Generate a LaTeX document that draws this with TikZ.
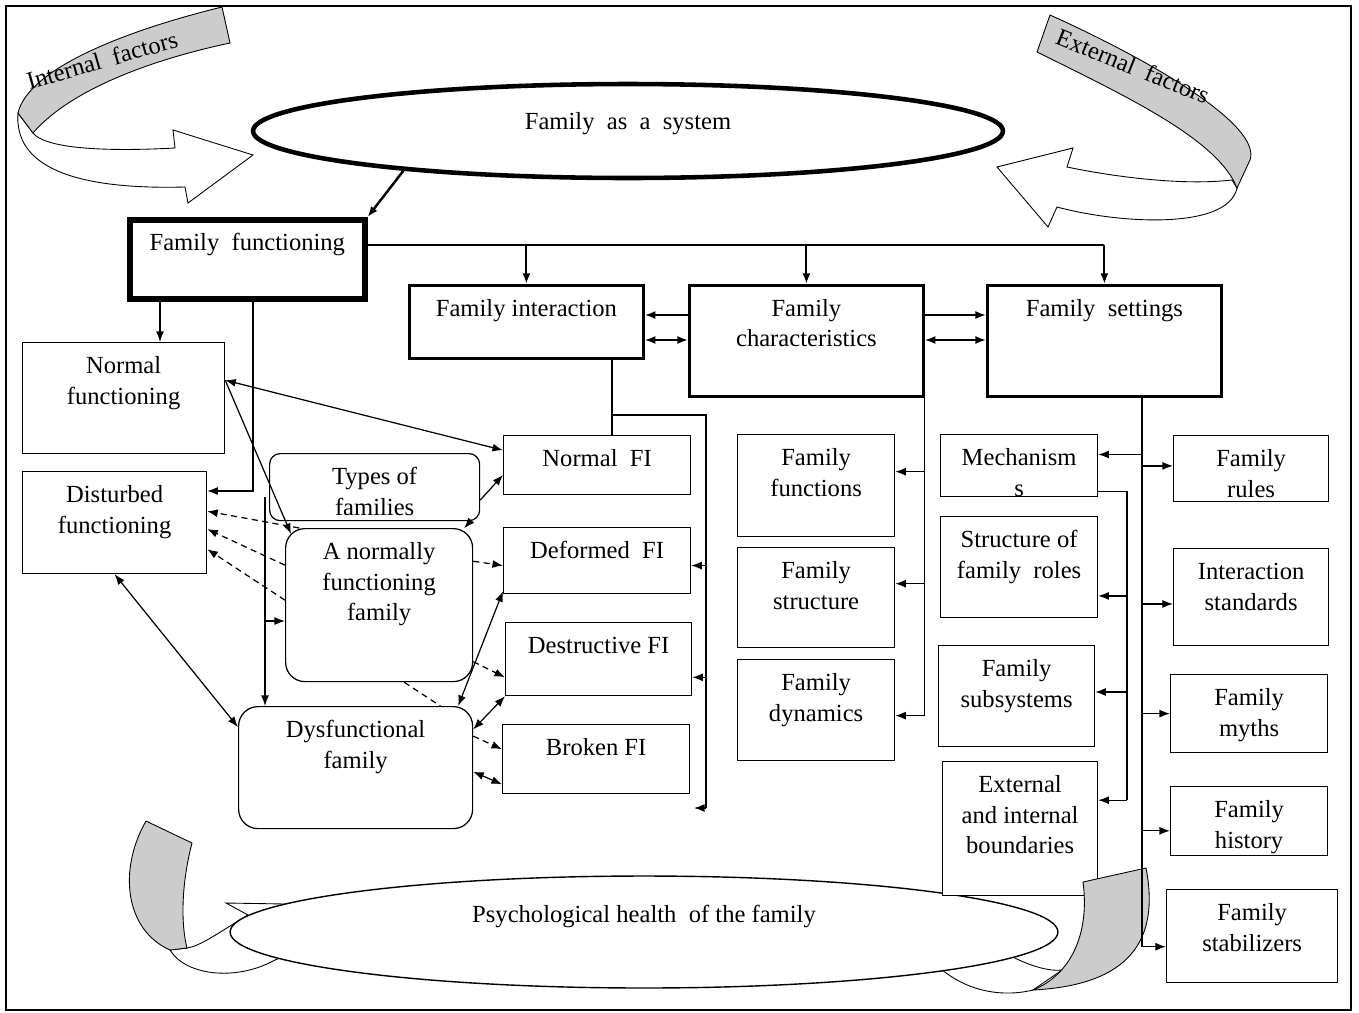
\documentclass[tikz,border=0pt]{standalone}
\usepackage{fontspec}
\setmainfont{Liberation Serif}
\usetikzlibrary{arrows.meta,shapes.geometric}

\newlength{\pxu}
\setlength{\pxu}{0.02cm}
\newcommand{\boxtext}[3]{\parbox[c][#2\pxu][t]{#1\pxu}{\centering\rule{0pt}{17.5pt}#3}}

\tikzset{
  famnode/.style={draw, fill=white, inner sep=0pt, anchor=north west, line width=0.7pt},
  heavynode/.style={famnode, line width=1.6pt},
  softnode/.style={famnode, rounded corners=#1},
  softnode/.default=11pt,
  ribbon/.style={draw, line width=0.5pt, fill=white},
  shade/.style={draw, line width=0.5pt, fill=gray!40},
  arr/.style={line width=0.7pt, -{Latex[length=6pt,width=4.5pt]}},
  dblarr/.style={line width=0.7pt, {Latex[length=6pt,width=4.5pt]}-{Latex[length=6pt,width=4.5pt]}},
  dasharr/.style={arr, dash pattern=on 3.5pt off 2.5pt},
  bus/.style={line width=1.4pt},
}

\begin{document}
\begin{tikzpicture}[x=0.02cm, y=-0.02cm, line width=0.7pt, font=\fontsize{14}{17.5}\selectfont]
\useasboundingbox (0,0) rectangle (1359,1012);
\draw[line width=0.6pt] (6,6) rectangle (1351,1010);

% top ribbons
\path[ribbon] (18,113) .. controls (14,165) and (70,190) .. (185,187) -- (188,203) -- (253,155) -- (173,130) -- (175,148) .. controls (100,152) and (45,148) .. (33,133) -- cycle;
\path[shade] (222,7) .. controls (120,32) and (28,70) .. (18,113) -- (33,133) .. controls (70,90) and (150,60) .. (230,43) -- cycle;
\node[rotate=16] (intf) at (102,60) {Internal\ \ factors};

\path[ribbon] (1232,180) .. controls (1180,186) and (1110,176) .. (1067,167) -- (1073,148) -- (997,167) -- (1048,227) -- (1057,207) .. controls (1120,224) and (1228,230) .. (1237,188) -- cycle;
\path[shade] (1050,15) .. controls (1150,60) and (1262,125) .. (1250,160) -- (1237,188) .. controls (1218,140) and (1130,98) .. (1037,52) -- cycle;
\node[rotate=-22] (extf) at (1133,66) {External\ \ factors};

\node[draw, ellipse, fill=white, line width=2.6pt, inner sep=0pt, minimum width=15cm, minimum height=1.88cm, text depth=11pt] (sys) at (628,131) {Family\ \ as\ \ a\ \ system};

% bottom ribbons
\path[ribbon] (170,950) .. controls (185,975) and (235,982) .. (275,960) -- (300,950) -- (345,905) -- (226,903) -- (248,915) .. controls (215,935) and (200,946) .. (187,948) -- cycle;
\path[ribbon] (1033,990) .. controls (1000,998) and (965,990) .. (940,968) -- (1000,950) .. controls (1020,962) and (1045,972) .. (1062,970) -- cycle;
\node[draw, ellipse, fill=white, line width=0.8pt, inner sep=0pt, minimum width=16.56cm, minimum height=2.24cm, text depth=21pt] (health) at (644,932) {Psychological health\ \ of the family};
\path[shade] (146,821) -- (192,843) .. controls (181,885) and (181,925) .. (187,948) -- (170,950) .. controls (125,930) and (118,870) .. (146,821) -- cycle;

% boxes
\node[famnode, line width=3.2pt] (ff) at (127,217) {\boxtext{235}{79}{Family\ \ functioning}};
\node[heavynode] (fint) at (408,284) {\boxtext{234}{73}{Family interaction}};
\node[heavynode] (fchar) at (688,284) {\boxtext{234}{111}{Family\\characteristics}};
\node[heavynode] (fset) at (986,284) {\boxtext{234}{111}{Family\ \ settings}};

\node[famnode] (normfun) at (22,342) {\boxtext{202}{111}{Normal\\functioning}};
\node[famnode] (distfun) at (22,471) {\boxtext{184}{102}{Disturbed\\functioning}};
\node[softnode=6pt] (types) at (269,453) {\boxtext{210}{67}{Types of\\families}};
\node[softnode] (normfam) at (285,528) {\boxtext{187}{153}{A normally\\functioning\\family}};
\node[softnode] (dysfam) at (238,706) {\boxtext{234}{122}{Dysfunctional\\family}};

\node[famnode] (nfi) at (503,435) {\boxtext{187}{59}{Normal\ \ FI}};
\node[famnode] (defi) at (503,527) {\boxtext{187}{66}{Deformed\ \ FI}};
\node[famnode] (desfi) at (505,622) {\boxtext{186}{73}{Destructive FI}};
\node[famnode] (brfi) at (502,724) {\boxtext{187}{69}{Broken FI}};

\node[famnode] (ffun) at (737,434) {\boxtext{157}{102}{Family\\functions}};
\node[famnode] (fstr) at (737,547) {\boxtext{157}{100}{Family\\structure}};
\node[famnode] (fdyn) at (737,659) {\boxtext{157}{101}{Family\\dynamics}};

\node[famnode] (mech) at (940,434) {\boxtext{157}{62}{Mechanism\\s}};
\node[famnode] (roles) at (940,516) {\boxtext{157}{101}{Structure of\\family\ \ roles}};
\node[famnode] (subsys) at (938,645) {\boxtext{156}{101}{Family\\subsystems}};
\node[famnode] (bound) at (942,761) {\boxtext{155}{134}{External\\and internal\\boundaries}};

\node[famnode] (rules) at (1173,435) {\boxtext{155}{66}{Family\\rules}};
\node[famnode] (istd) at (1173,548) {\boxtext{155}{97}{Interaction\\standards}};
\node[famnode] (myths) at (1170,674) {\boxtext{157}{78}{Family\\myths}};
\node[famnode] (hist) at (1170,786) {\boxtext{157}{69}{Family\\history}};
\node[famnode] (stab) at (1166,889) {\boxtext{171}{93}{Family\\stabilizers}};

\path[shade] (1083,882) -- (1146,868) .. controls (1160,940) and (1130,985) .. (1033,990) .. controls (1070,975) and (1090,935) .. (1083,882) -- cycle;

% from the system down to the three blocks
\coordinate (fbus) at (0,245);
\draw[arr, line width=1.4pt] (sys.190) -- (ff.north east);
\draw[bus] (ff.east |- fbus) -- (fset.north |- fbus);
\foreach \n in {fint,fchar,fset}
  \draw[arr, line width=1.2pt] (\n.north |- fbus) -- (\n.north);

\coordinate (ya) at (0,315);
\coordinate (yb) at (0,340);
\draw[arr, line width=1pt] (fchar.west |- ya) -- (fint.east |- ya);
\draw[dblarr, line width=1pt] (fint.east |- yb) -- (fchar.west |- yb);
\draw[arr, line width=1pt] (fchar.east |- ya) -- (fset.west |- ya);
\draw[dblarr, line width=1pt] (fchar.east |- yb) -- (fset.west |- yb);

% functioning and types of families
\coordinate (ffdrop) at (160,0);
\coordinate (kneeA) at (253,491);
\coordinate (kneeB) at (265,497);
\coordinate (kneeC) at (265,621);
\draw[arr] (ff.south -| ffdrop) -- (normfun.north -| ffdrop);
\draw[arr] (ff.south -| kneeA) -- (kneeA) -- (distfun.east |- kneeA);
\draw[arr] (kneeB) -- (dysfam.north -| kneeB);
\draw[arr] (kneeC) -- (normfam.west |- kneeC);

\draw[dblarr] (normfun.10) -- (nfi.171);
\draw[arr] (normfun.10) -- ([shift={(6,6)}]normfam.north west);
\draw[arr] (types.-7) -- (nfi.186);
\draw[arr] ([shift={(-9,-1)}]types.south east) -- ++(-7,8);

\draw[dasharr] (normfam.136) -- (distfun.7);
\draw[dasharr] (normfam.157) -- (distfun.-4);
\draw[dasharr] (normfam.177) -- (distfun.-16);
\draw[dasharr] (normfam.25) -- (defi.183);
\draw[dasharr] (normfam.-31) -- (desfi.191);
\draw[dash pattern=on 3.5pt off 2.5pt] (normfam.-72) -- (dysfam.36);
\draw[dasharr] (dysfam.15) -- (brfi.174);

\draw[dblarr] (dysfam.31) -- (defi.198);
\draw[dblarr] (dysfam.18) -- (desfi.south west);
\draw[dblarr] (dysfam.-2) -- (brfi.195);
\draw[dblarr] (distfun.south) -- (dysfam.161);

% family interaction
\coordinate (fiknee) at (612,415);
\coordinate (fibus) at (706,415);
\coordinate (fiend) at (706,808);
\coordinate (fistub) at (694,808);
\draw (fint.south -| fiknee) -- (nfi.north -| fiknee);
\draw (fiknee) -- (fibus) -- (fiend);
\draw[arr] (fibus |- defi.-3) -- (defi.-3);
\draw[arr] (fibus |- desfi.-11) -- (desfi.-11);
\draw[arr] (fiend) -- (fistub);

% family characteristics
\draw (fchar.south east) -- (fchar.south east |- fdyn.-4);
\foreach \n/\a in {ffun/10, fstr/10, fdyn/-4}
  \draw[arr] (fchar.south east |- \n.\a) -- (\n.\a);

% family settings
\coordinate (fsbus) at (1142,0);
\coordinate (mbus) at (1127,0);
\draw (fset.south -| fsbus) -- (stab.187 -| fsbus);
\draw[arr] (fsbus |- mech.8) -- (mech.8);
\foreach \n/\a in {rules/178, istd/185, myths/180, hist/187, stab/187}
  \draw[arr] (fsbus |- \n.\a) -- (\n.\a);
\draw (mech.-18) -| (bound.20 -| mbus);
\foreach \n/\a in {roles/-20, subsys/3, bound/20}
  \draw[arr] (mbus |- \n.\a) -- (\n.\a);
\end{tikzpicture}
\end{document}
